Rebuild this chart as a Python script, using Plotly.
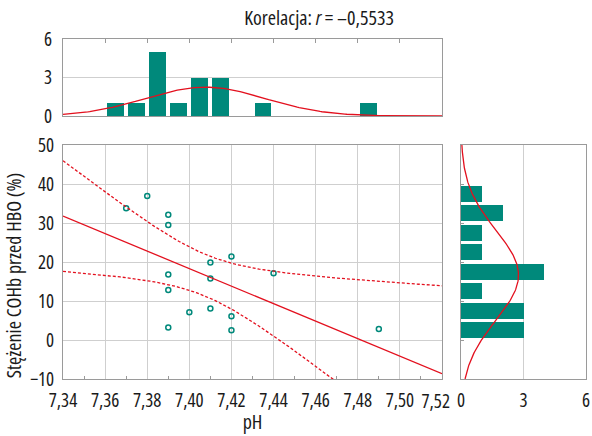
import numpy as np
import plotly.graph_objects as go

# ---- data ----
ph = [7.37, 7.38, 7.39, 7.39, 7.39, 7.39, 7.39, 7.40, 7.41, 7.41, 7.41, 7.42, 7.42, 7.42, 7.44, 7.49]
cohb = [33.8, 36.9, 32.1, 29.5, 16.8, 12.8, 3.2, 7.1, 19.9, 15.8, 8.1, 21.4, 6.1, 2.5, 17.1, 2.8]

ph_bin_centers = [7.365, 7.375, 7.385, 7.395, 7.405, 7.415, 7.435, 7.485]
ph_bin_counts = [1, 1, 5, 1, 3, 3, 1, 1]
ph_bin_width = 0.01

cohb_bin_centers = [37.5, 32.5, 27.5, 22.5, 17.5, 12.5, 7.5, 2.5]
cohb_bin_counts = [1, 2, 1, 1, 4, 1, 3, 3]
cohb_bin_width = 5

x_ticks = [7.34, 7.36, 7.38, 7.40, 7.42, 7.44, 7.46, 7.48, 7.50, 7.52]
x_ticktext = ["7,34", "7,36", "7,38", "7,40", "7,42", "7,44", "7,46", "7,48", "7,50", "7,52"]
y_ticks = [-10, 0, 10, 20, 30, 40, 50]
hist_ticks = [0, 3, 6]
t_crit = 2.1448  # t(0.975, 14)

TEAL = "#00897b"
RED = "#e3101e"
GRID = "#cfcfcf"
BORDER = "#9a9a9a"
FONT = "Open Sans, Roboto, sans-serif"

x = np.array(ph)
y = np.array(cohb)
n = len(x)
slope, intercept = np.polyfit(x, y, 1)
xs = np.linspace(7.34, 7.52, 200)
yfit = intercept + slope * xs
resid = y - (intercept + slope * x)
s = np.sqrt(np.sum(resid ** 2) / (n - 2))
sxx = np.sum((x - x.mean()) ** 2)
half = t_crit * s * np.sqrt(1 / n + (xs - x.mean()) ** 2 / sxx)

def normal_curve(vals, grid, binw):
    m = np.mean(vals)
    sd = np.std(vals, ddof=1)
    return len(vals) * binw * np.exp(-0.5 * ((grid - m) / sd) ** 2) / (sd * np.sqrt(2 * np.pi))

fig = go.Figure()

# main scatter
fig.add_trace(go.Scatter(x=ph, y=cohb, mode="markers", xaxis="x", yaxis="y",
                         marker=dict(symbol="circle-open", size=5, color=TEAL, line=dict(width=1.5, color=TEAL))))
fig.add_trace(go.Scatter(x=xs, y=yfit, mode="lines", xaxis="x", yaxis="y", line=dict(color=RED, width=1.3)))
fig.add_trace(go.Scatter(x=xs, y=yfit + half, mode="lines", xaxis="x", yaxis="y",
                         line=dict(color=RED, width=1.3, dash="3px,2px")))
fig.add_trace(go.Scatter(x=xs, y=yfit - half, mode="lines", xaxis="x", yaxis="y",
                         line=dict(color=RED, width=1.3, dash="3px,2px")))

# top histogram
fig.add_trace(go.Bar(x=ph_bin_centers, y=ph_bin_counts, width=0.008, xaxis="x2", yaxis="y2",
                     marker=dict(color=TEAL, line=dict(width=0))))
fig.add_trace(go.Scatter(x=xs, y=normal_curve(x, xs, ph_bin_width), mode="lines", xaxis="x2", yaxis="y2",
                         line=dict(color=RED, width=1.3)))

# right histogram
ys = np.linspace(-10, 50, 200)
fig.add_trace(go.Bar(y=cohb_bin_centers, x=cohb_bin_counts, width=4.1, orientation="h", xaxis="x3", yaxis="y3",
                     marker=dict(color=TEAL, line=dict(width=0))))
fig.add_trace(go.Scatter(x=normal_curve(y, ys, cohb_bin_width), y=ys, mode="lines", xaxis="x3", yaxis="y3",
                         line=dict(color=RED, width=1.3)))

W, H = 592, 436
def px(a, b):
    return [a / W, b / W]
def py(top, bottom):
    return [1 - bottom / H, 1 - top / H]

tickfont = dict(family=FONT, size=19, color="#1a1a1a")
common = dict(showline=True, linecolor=BORDER, linewidth=1, mirror=True, zeroline=False,
              gridcolor=GRID, gridwidth=1, automargin=False)

fig.update_layout(
    template="none",
    width=W, height=H, margin=dict(l=0, r=0, t=0, b=0, pad=0), autosize=False,
    paper_bgcolor="white", plot_bgcolor="white", showlegend=False,
    separators=", ", bargap=0,
    xaxis=dict(domain=px(63, 442), range=[7.34, 7.52], tickvals=x_ticks,
               ticktext=x_ticktext[:-1] + [""], ticklabelstandoff=4,
               ticks="", tickfont=tickfont, anchor="y", showgrid=True,
               minor=dict(tickvals=[v + 0.01 for v in x_ticks[:-1]], ticks="inside", ticklen=3,
                          tickcolor=BORDER, showgrid=False), **common),
    yaxis=dict(domain=py(145, 379), range=[-10, 50], tickvals=y_ticks, ticks="", tickfont=tickfont,
               anchor="x", showgrid=True, ticklabelstandoff=4, **common),
    xaxis2=dict(domain=px(63, 442), range=[7.34, 7.52], tickvals=x_ticks, showticklabels=False,
                ticks="inside", ticklen=4, tickcolor=BORDER, side="top", showgrid=False, anchor="y2",
                **common),
    yaxis2=dict(domain=py(39, 116), range=[0, 6], tickvals=hist_ticks, ticks="", tickfont=tickfont,
                showgrid=True, anchor="x2", ticklabelstandoff=6, **common),
    xaxis3=dict(domain=px(461, 586), range=[0, 6], tickvals=hist_ticks, ticks="", tickfont=tickfont,
                showgrid=True, anchor="y3", ticklabelstandoff=4, **common),
    yaxis3=dict(domain=py(145, 379), range=[-10, 50], tickvals=y_ticks[1:-1], showticklabels=False,
                ticks="inside", ticklen=3, tickcolor=BORDER, showgrid=False, anchor="x3", **common),
)

# last x tick label, nudged left as in the reference so it does not collide with the "0"
fig.add_annotation(x=x_ticks[-1], y=1 - 401 / H, xref="x", yref="paper", showarrow=False,
                   text=x_ticktext[-1], xshift=-6, xanchor="center", yanchor="middle", font=tickfont)

fig.add_annotation(x=319 / W, y=1 - 17 / H, xref="paper", yref="paper", showarrow=False,
                   xanchor="center", yanchor="middle",
                   text="Korelacja: <i>r</i> = –0,5533", font=dict(family=FONT, size=20, color="#1a1a1a"))
fig.add_annotation(x=252 / W, y=1 - 421 / H, xref="paper", yref="paper", showarrow=False,
                   xanchor="center", yanchor="middle",
                   text="pH", font=dict(family=FONT, size=20, color="#1a1a1a"))
fig.add_annotation(x=13 / W, y=1 - 276 / H, xref="paper", yref="paper", showarrow=False, textangle=-90,
                   xanchor="center", yanchor="middle",
                   text="Stężenie COHb przed HBO (%)", font=dict(family=FONT, size=20, color="#1a1a1a"))

post = ("document.body.style.margin='0';document.body.style.overflow='hidden';"
        "document.querySelectorAll('svg text').forEach(function(t){"
        "var c=t.textContent||'';"
        "t.style.fontStretch=(c.indexOf('Stężenie')===0)?'80%':((c.indexOf('Korelacja')===0)?'77%':'75%');});")
fig.write_html("out.html", post_script=post, config={"displayModeBar": False})
